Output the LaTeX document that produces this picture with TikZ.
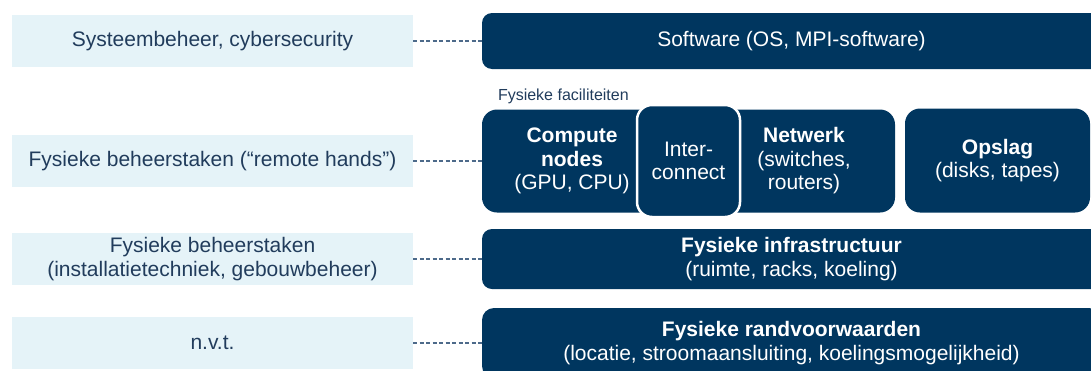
\documentclass[tikz,border=0pt]{standalone}
\usepackage{fontspec}
\setmainfont{Liberation Sans}
\usetikzlibrary{positioning,calc}
\definecolor{navy}{HTML}{00365F}
\definecolor{ice}{HTML}{E5F3F8}
\definecolor{slate}{HTML}{213C5C}
\definecolor{dashc}{HTML}{4D6A8A}
\tikzset{x=1pt, y=-1pt}
\tikzset{role/.style={fill=ice, text=slate, minimum width=401pt, minimum height=52pt,
    align=center, inner sep=0pt, font=\fontsize{21}{23.5}\selectfont}}
\tikzset{blk/.style={fill=navy, text=white, rounded corners=10pt, align=center,
    inner sep=0pt, font=\fontsize{21}{23.5}\selectfont}}
\tikzset{link/.style={draw=dashc, dash pattern=on 4pt off 2.5pt, line width=1.2pt}}

\begin{document}
\begin{tikzpicture}
        \useasboundingbox (0,0) rectangle (1091,370);
        % taken
        \node[role] (sys) at (212.5,41) {Systeembeheer, cybersecurity};
        \node[role] (hands) at (212.5,161) {Fysieke beheerstaken (“remote hands”)};
        \node[role] (inst) at (212.5,259) {Fysieke beheerstaken\\(installatietechniek, gebouwbeheer)};
        \node[role] (nvt) at (212.5,343) {n.v.t.};
        % lagen
        \node[blk, minimum width=619pt, minimum height=56pt] (sw) at (791.5,41) {Software (OS, MPI-software)};
        \node[blk, rounded corners=15pt, minimum width=180pt, minimum height=103pt] (comp) at (572,161)
            {\textbf{Compute}\\\textbf{nodes}\\(GPU, CPU)};
        \node[blk, rounded corners=15pt, minimum width=182pt, minimum height=103pt] (net) at (804,161)
            {\textbf{Netwerk}\\(switches,\\routers)};
        \node[blk, rounded corners=15pt, draw=white, line width=2.5pt, minimum width=103pt, minimum height=112pt] (ic) at (688.5,161)
            {Inter-\\connect};
        \node[blk, rounded corners=15pt, minimum width=185pt, minimum height=104pt] (opslag) at (997.5,160.5)
            {\textbf{Opslag}\\(disks, tapes)};
        \node[above right=5pt and 16pt of comp.north west, inner sep=0pt, text=slate,
            font=\fontsize{16}{18}\selectfont] (fac) {Fysieke faciliteiten};
        \node[blk, minimum width=619pt, minimum height=60pt] (infra) at (791.5,259)
            {\textbf{Fysieke infrastructuur}\\(ruimte, racks, koeling)};
        \node[blk, rounded corners=12pt, minimum width=619pt, minimum height=70pt] (rand) at (791.5,343)
            {\textbf{Fysieke randvoorwaarden}\\(locatie, stroomaansluiting, koelingsmogelijkheid)};
        % stippellijnen
        \draw[link] (sys) -- (sw);
        \draw[link] (hands) -- (comp);
        \draw[link] (inst) -- (infra);
        \draw[link] (nvt) -- (rand);
\end{tikzpicture}
\end{document}
